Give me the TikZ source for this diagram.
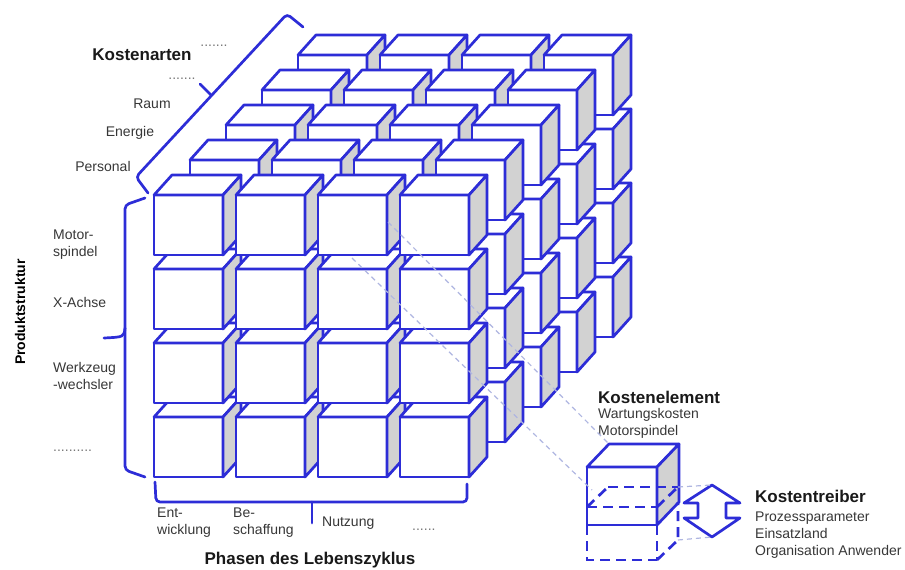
\documentclass[tikz,border=0pt]{standalone}
\usepackage{fontspec}
\setmainfont{Liberation Sans}
\definecolor{cubeblue}{RGB}{45,45,215}
\definecolor{sidegray}{RGB}{210,210,210}
\definecolor{projline}{RGB}{175,182,225}
\definecolor{labelgray}{RGB}{55,55,55}
\definecolor{dotgray}{RGB}{120,120,120}
\newcommand\lblfont{\fontsize{14}{17}\selectfont}
\newcommand\headfont{\fontsize{17}{20}\selectfont\bfseries}
\tikzset{
  edge/.style={draw=cubeblue, line width=2.7pt, line join=round},
  facew/.style={edge, fill=white},
  faceg/.style={edge, fill=sidegray},
  bracepath/.style={draw=cubeblue, line width=2.7pt, rounded corners=4pt, line cap=round},
  hiddenedge/.style={draw=cubeblue, line width=2.7pt, dash pattern=on 10pt off 6pt},
  projdash/.style={draw=projline, line width=1.2pt, dash pattern=on 5pt off 4pt},
  lbl/.style={inner sep=0pt, text=labelgray, font=\lblfont, align=left},
  head/.style={inner sep=0pt, text=black!90, font=\headfont},
  dotlbl/.style={inner sep=0pt, text=dotgray, font=\lblfont},
  cubebox/.pic={
    \path[facew] (0,0) rectangle (69,60);
    \path[facew] (0,0) -- (18,-20) -- (87,-20) -- (69,0) -- cycle;
    \path[faceg] (69,0) -- (87,-20) -- (87,40) -- (69,60) -- cycle;
  }
}
\begin{document}
\begin{tikzpicture}[x=1pt,y=-1pt]
\useasboundingbox (0,0) rectangle (905,570);

% cube array: 5 layers deep, 4 rows, 4 columns
\foreach \l in {4,3,2,1,0} {
  \foreach \r in {3,2,1,0} {
    \foreach \c in {0,1,2,3} {
      \pic at ({154+82*\c+36*\l},{195+74*\r-35*\l}) {cubebox};
    }
  }
}

% braces
\draw[bracepath] (148,193) -- (136,177) -- (287,14) -- (303,27);
\draw[bracepath] (211,95) -- (200,84);
\draw[bracepath] (145,198) -- (125,205) -- (125,470) -- (145,477);
\draw[bracepath] (125,328) .. controls (124,337) .. (104,338);
\draw[bracepath] (155,482) -- (156,502) -- (467,502) -- (467,484);
\draw[bracepath] (312,502) -- (312,523);

% labels: Kostenarten
\node[head] (kostenarten) at (142,55) {Kostenarten};
\node[dotlbl, anchor=base] (kdots1) at (214,46) {.......};
\node[dotlbl, anchor=base] (kdots2) at (182,79) {.......};
\node[lbl] (raum) at (152,104) {Raum};
\node[lbl] (energie) at (130,133) {Energie};
\node[lbl] (personal) at (103,166) {Personal};

% Produktstruktur
\node[inner sep=0pt, font=\fontsize{14}{17}\selectfont\bfseries, rotate=90] (produkt) at (20,312) {Produktstruktur};
\node[lbl, anchor=west] (motor) at (53,245) {Motor-\\spindel};
\node[lbl, anchor=west] (xachse) at (53,302) {X-Achse};
\node[lbl, anchor=west] (werkzeug) at (53,376) {Werkzeug\\-wechsler};
\node[dotlbl, anchor=base west] (pdots) at (53,451) {..........};

% Phasen
\node[lbl, anchor=west] (entw) at (157,523) {Ent-\\wicklung};
\node[lbl, anchor=west] (besch) at (233,523) {Be-\\schaffung};
\node[lbl, anchor=west] (nutz) at (322,523) {Nutzung};
\node[dotlbl, anchor=base west] (phdots) at (412,530) {......};
\node[head] (phasen) at (310,560) {Phasen des Lebenszyklus};

% Kostenelement
\node[head, anchor=west] (kelement) at (598,397) {Kostenelement};
\node[lbl, anchor=west] (kelemtxt) at (598,423) {Wartungskosten\\Motorspindel};

% small cube
\path[facew] (587,467) rectangle (657,525);
\path[facew] (587,467) -- (609,444) -- (679,444) -- (657,467) -- cycle;
\path[faceg] (657,467) -- (679,444) -- (679,502) -- (657,525) -- cycle;

% dashed cube
\coordinate (dtop) at (678,487);
\coordinate (dbot) at (678,540);
\draw[hiddenedge] (608,487) -- (dtop);
\draw[hiddenedge] (587,507) -- (657,507);
\draw[hiddenedge] (587,507) -- (608,487);
\draw[hiddenedge] (657,507) -- (dtop);
\draw[hiddenedge] (587,525) -- (587,560) -- (657,560);
\draw[hiddenedge] (657,525) -- (657,560);
\draw[hiddenedge] (657,560) -- (dbot) -- (678,502);

% double arrow
\path[facew] (712,485) -- (740,503) -- (726,503) -- (726,518) -- (740,518) -- (712,537)
  -- (684,518) -- (698,518) -- (698,503) -- (684,503) -- cycle;
\coordinate (atop) at (712,485);
\coordinate (abot) at (712,537);

% Kostentreiber
\node[head, anchor=west] (ktreiber) at (755,496) {Kostentreiber};
\node[lbl, anchor=west] (ktreibtxt) at (755,535) {Prozessparameter\\Einsatzland\\Organisation Anwender};

% projection lines
\coordinate (p1s) at (388,222);
\coordinate (p1e) at (609,444);
\coordinate (p2s) at (352,258);
\coordinate (p2e) at (592,490);
\draw[projdash] (p1s) -- (p1e);
\draw[projdash] (p2s) -- (p2e);
\draw[projdash] (dtop) -- (atop);
\draw[projdash] (dbot) -- (abot);
\end{tikzpicture}
\end{document}
